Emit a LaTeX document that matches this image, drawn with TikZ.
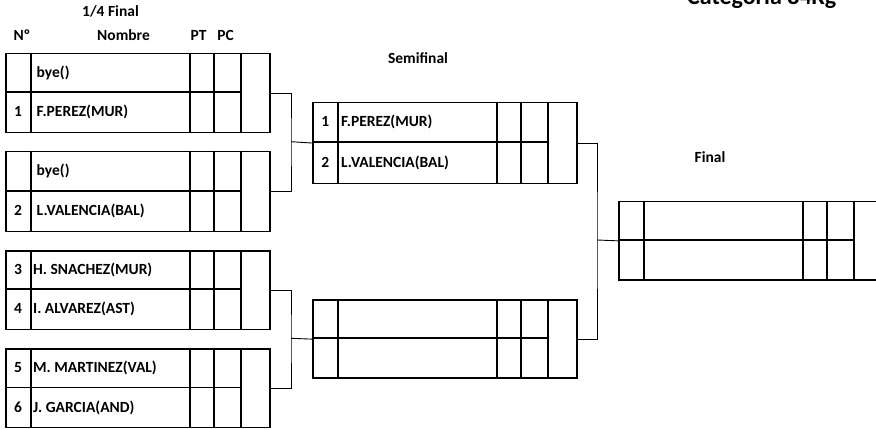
\documentclass[tikz,border=0pt]{standalone}
\usepackage{fontspec}
\setmainfont{Carlito}
\newcommand{\matchbox}[9]{%
  \node[mbox, minimum height={2*#4pt}] (#1) at (#2,#3) {};
  \draw[boxline] (#2+26,#3) -- (#2+26,#3+2*#4)
    (#2+185,#3) -- (#2+185,#3+2*#4)
    (#2+209,#3) -- (#2+209,#3+2*#4)
    (#2+236,#3) -- (#2+236,#3+2*#4)
    (#2,#3+#4) -- (#2+236,#3+#4);
  \node[lbl, anchor=base] (#1-na) at (#2+13,#3+#4/2+5) {#5};
  \node[lbl, anchor=base west] (#1-ta) at (#2+26+#9,#3+#4/2+5) {#6};
  \node[lbl, anchor=base] (#1-nb) at (#2+13,#3+#4*1.5+5) {#7};
  \node[lbl, anchor=base west] (#1-tb) at (#2+26+#9,#3+#4*1.5+5) {#8};
}
\begin{document}
\begin{tikzpicture}[x=1pt,y=-1pt,
  boxline/.style={line width=1.7pt},
  conn/.style={line width=0.9pt},
  lbl/.style={font=\bfseries\fontsize{15.5}{17}\selectfont, inner sep=0pt},
  mbox/.style={draw, line width=1.7pt, rectangle, inner sep=0pt, minimum width=264pt, anchor=north west}]
\useasboundingbox (0,0) rectangle (876,430);
\clip (0,0) rectangle (876,430);

% headers
\node[lbl, anchor=base] (hq) at (110.5,16.7) {1/4 Final};
\node[lbl, anchor=base] (hno) at (22,40.5) {Nº};
\node[lbl, anchor=base] (hnom) at (123.5,40.5) {Nombre};
\node[lbl, anchor=base] (hpt) at (198.5,40.5) {PT};
\node[lbl, anchor=base] (hpc) at (225.7,40.5) {PC};
\node[lbl, anchor=base] (hs) at (418,64) {Semifinal};
\node[lbl, anchor=base] (hf) at (710,162.7) {Final};
\node[font=\bfseries\fontsize{24}{28}\selectfont, inner sep=0pt, anchor=base west] (title) at (687,5) {Categoria 84Kg};

% quarter finals
\matchbox{q1}{5}{52.7}{39.5}{}{bye()}{1}{F.PEREZ(MUR)}{5.5}
\matchbox{q2}{5}{150.7}{40}{}{bye()}{2}{L.VALENCIA(BAL)}{5.5}
\matchbox{q3}{5}{250}{39.3}{3}{H. SNACHEZ(MUR)}{4}{I. ALVAREZ(AST)}{2}
\matchbox{q4}{5}{348.3}{39.2}{5}{M. MARTINEZ(VAL)}{6}{J. GARCIA(AND)}{2}

% semifinals
\matchbox{s1}{312.3}{101.7}{40.5}{1}{F.PEREZ(MUR)}{2}{L.VALENCIA(BAL)}{2.5}
\matchbox{s2}{312.3}{299.3}{39}{}{}{}{}{2}

% final
\matchbox{f}{618.3}{200.7}{39.3}{}{}{}{}{2}

% connectors
\coordinate (b1) at (291,141.7);
\coordinate (b2) at (291,338.3);
\coordinate (b3) at (597,240);
\draw[conn] (q1.east) -| (b1) |- (q2.east);
\draw[conn] (b1) -- (s1.west);
\draw[conn] (q3.east) -| (b2) |- (q4.east);
\draw[conn] (b2) -- (s2.west);
\draw[conn] (s1.east) -| (b3) |- (s2.east);
\draw[conn] (b3) -- (f.west);
\end{tikzpicture}
\end{document}
